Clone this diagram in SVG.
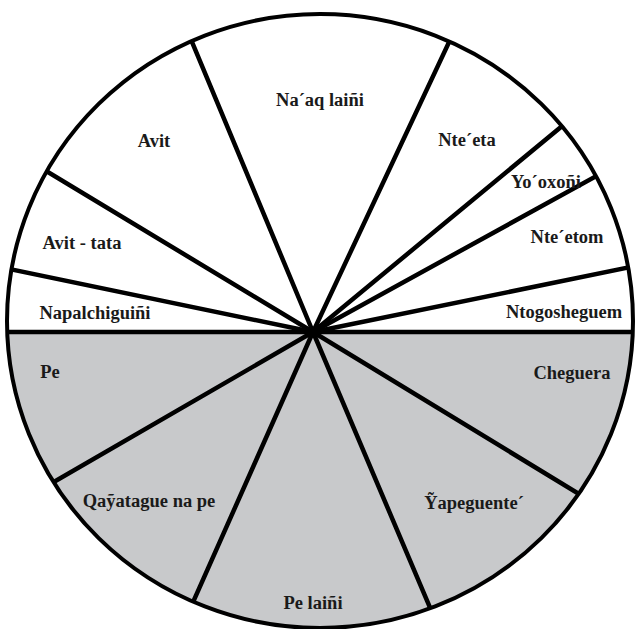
<svg xmlns="http://www.w3.org/2000/svg" width="635" height="629" viewBox="0 0 635 629">
<style>
.lbl{font-family:"Liberation Serif","Times New Roman",serif;font-weight:bold;font-size:18.5px;fill:#1a1a1a;text-anchor:middle}
.sp{stroke:#000;stroke-width:4.5;stroke-linecap:round;fill:none}
</style>
<defs>
<clipPath id="clip"><ellipse cx="320" cy="321" rx="313" ry="307"/></clipPath>
</defs>
<rect width="635" height="629" fill="#fff"/>
<g id="disc">
<ellipse cx="320" cy="321" rx="313" ry="307" fill="#fff"/>
<rect x="0" y="332" width="635" height="300" fill="#c8c9cb" clip-path="url(#clip)"/>
</g>
<g id="connectors" clip-path="url(#clip)">
<line class="sp" x1="0" y1="332" x2="635" y2="332" stroke-width="5"/>
<line class="sp" x1="313" y1="332" x2="-15" y2="264"/>
<line class="sp" x1="313" y1="332" x2="13" y2="151"/>
<line class="sp" x1="313" y1="332" x2="177" y2="6"/>
<line class="sp" x1="313" y1="332" x2="466" y2="6"/>
<line class="sp" x1="313" y1="332" x2="590" y2="103"/>
<line class="sp" x1="313" y1="332" x2="640" y2="152"/>
<line class="sp" x1="313" y1="332" x2="660" y2="261"/>
<line class="sp" x1="313" y1="332" x2="14" y2="505"/>
<line class="sp" x1="313" y1="332" x2="174" y2="645"/>
<line class="sp" x1="313" y1="332" x2="448" y2="650"/>
<line class="sp" x1="313" y1="332" x2="625" y2="522"/>
</g>
<ellipse cx="320" cy="321" rx="313" ry="307" fill="none" stroke="#000" stroke-width="4"/>
<g id="n1"><text class="lbl" x="320" y="106">Na´aq laiñi</text></g>
<g id="n2"><text class="lbl" x="467" y="146">Nte´eta</text></g>
<g id="n3"><text class="lbl" x="154" y="147">Avit</text></g>
<g id="n4"><text class="lbl" x="546" y="188">Yo´oxoñi</text></g>
<g id="n5"><text class="lbl" x="82" y="249">Avit - tata</text></g>
<g id="n6"><text class="lbl" x="567" y="243">Nte´etom</text></g>
<g id="n7"><text class="lbl" x="95" y="319">Napalchiguiñi</text></g>
<g id="n8"><text class="lbl" x="564" y="318">Ntogosheguem</text></g>
<g id="n9"><text class="lbl" x="50" y="378">Pe</text></g>
<g id="n10"><text class="lbl" x="572" y="379">Cheguera</text></g>
<g id="n11"><text class="lbl" x="149" y="507">Qaỹatague na pe</text></g>
<g id="n12"><text class="lbl" x="474" y="509">Ỹapeguente´</text></g>
<g id="n13"><text class="lbl" x="313" y="609">Pe laiñi</text></g>
</svg>
